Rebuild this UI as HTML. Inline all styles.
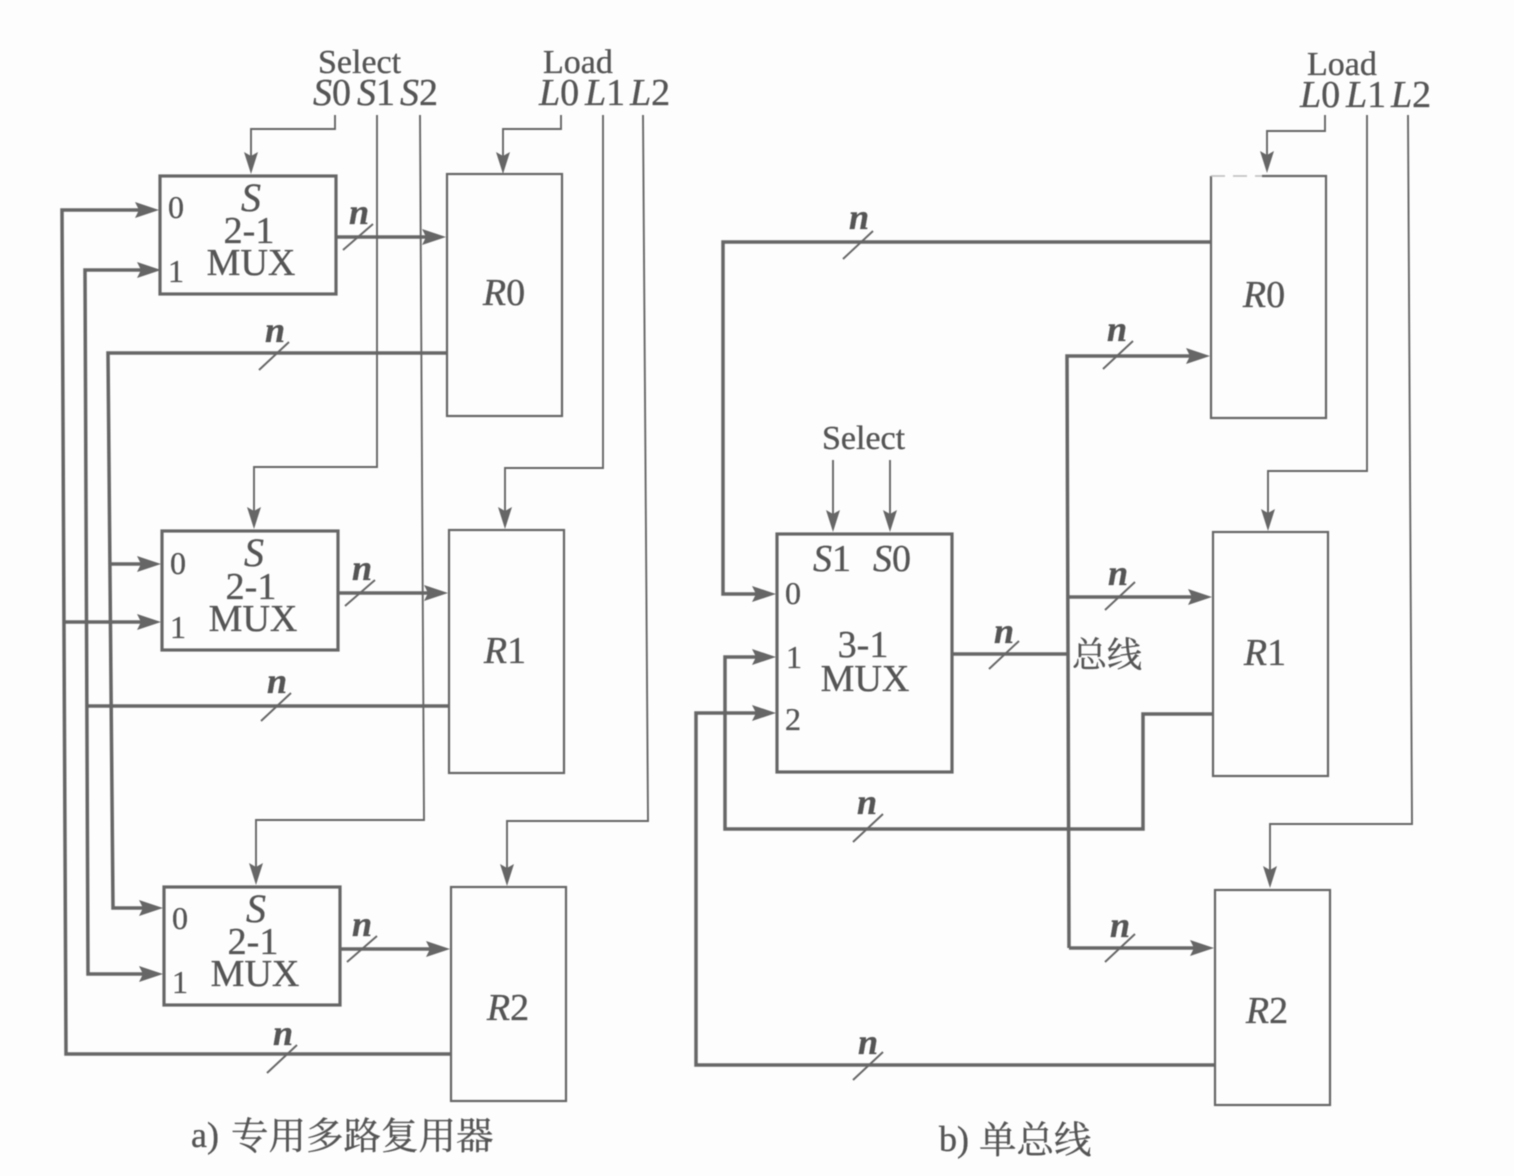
<!DOCTYPE html>
<html>
<head>
<meta charset="utf-8">
<style>
html,body{margin:0;padding:0;background:#fdfdfd;}
svg{display:block;filter:blur(0.6px);}
text{font-family:"Liberation Serif","Noto Serif CJK SC",serif;fill:#555;stroke:#555;stroke-width:0.35;}
.i{font-style:italic;}
.l{fill:none;stroke:#666;stroke-width:2.2;}
.t{fill:none;stroke:#666;stroke-width:3.5;}
.b{fill:none;stroke:#666;stroke-width:3.2;}
.s{fill:none;stroke:#666;stroke-width:1.9;}
.a{fill:#666;stroke:none;}
</style>
</head>
<body>
<svg width="1514" height="1176" viewBox="0 0 1514 1176" xmlns="http://www.w3.org/2000/svg">
<defs>
<g id="ar"><path class="a" d="M0,0 L-24,-8 L-20,0 L-24,8 Z"/></g>
<g id="ad"><path class="a" d="M0,0 L-7,-22 L0,-18 L7,-22 Z"/></g>
</defs>

<!-- Left boxes -->
<rect x="160" y="176" width="176" height="118" class="b"/>
<rect x="162" y="531" width="176" height="119" class="b"/>
<rect x="164" y="887" width="176" height="118" class="b"/>
<rect x="447" y="174" width="115" height="242" class="l"/>
<rect x="449" y="530" width="115" height="243" class="l"/>
<rect x="451" y="887" width="115" height="214" class="l"/>

<!-- Left select / load lines -->
<path class="s" d="M335,115 V129 H251 V170"/><use href="#ad" x="251" y="174"/>
<path class="s" d="M377,115 V467 H254 V525"/><use href="#ad" x="254" y="529"/>
<path class="s" d="M420,115 L424,820 H256 V881"/><use href="#ad" x="256" y="885"/>
<path class="s" d="M561,115 V129 H503 V170"/><use href="#ad" x="503" y="174"/>
<path class="s" d="M603,115 V468 H505 V525"/><use href="#ad" x="505" y="529"/>
<path class="s" d="M643,115 L648,821 H507 V882"/><use href="#ad" x="507" y="886"/>

<!-- Left buses -->
<path class="t" d="M447,353 H108 L113,908 H145"/><use href="#ar" x="163" y="908"/>
<path class="t" d="M110,564 H145"/><use href="#ar" x="161" y="564"/>
<path class="t" d="M145,270 H85 L88,974 H145"/><use href="#ar" x="161" y="270"/><use href="#ar" x="163" y="974"/>
<path class="t" d="M449,706 H87"/>
<path class="t" d="M451,1054 H66 L62,210 H145"/><use href="#ar" x="159" y="210"/>
<path class="t" d="M64,622 H145"/><use href="#ar" x="161" y="622"/>
<path class="t" d="M337,237 H430"/><use href="#ar" x="446" y="237"/>
<path class="t" d="M339,593 H432"/><use href="#ar" x="448" y="593"/>
<path class="t" d="M341,949 H434"/><use href="#ar" x="450" y="949"/>

<!-- Left slashes -->
<path class="s" d="M343,250 L373,224 M345,606 L375,580 M347,962 L377,936 M259,370 L289,342 M261,721 L291,693 M267,1073 L297,1045"/>

<!-- Right boxes -->
<path class="l" d="M1262,176 H1326 V418 H1211 V176"/>
<path d="M1211,176 H1262" fill="none" stroke="#bbb" stroke-width="1.5" stroke-dasharray="14 8"/>
<rect x="1213" y="532" width="115" height="244" class="l"/>
<rect x="1215" y="890" width="115" height="215" class="l"/>
<rect x="777" y="534" width="175" height="238" class="b"/>

<!-- Right load lines -->
<path class="s" d="M1325,115 V131 H1267 V168"/><use href="#ad" x="1267" y="173"/>
<path class="s" d="M1367,115 V471 H1268 V526"/><use href="#ad" x="1268" y="531"/>
<path class="s" d="M1408,115 L1412,824 H1270 V884"/><use href="#ad" x="1270" y="888"/>
<path class="s" d="M833,460 V528"/><use href="#ad" x="833" y="532"/>
<path class="s" d="M890,460 V528"/><use href="#ad" x="890" y="532"/>

<!-- Right buses -->
<path class="t" d="M1211,242 H723 V594 H760"/><use href="#ar" x="776" y="594"/>
<path class="t" d="M952,654 H1068"/>
<path class="t" d="M1069,948 H1197 M1069,948 L1067,356 H1195"/><use href="#ar" x="1210" y="356"/>
<path class="t" d="M1068,597 H1195"/><use href="#ar" x="1212" y="597"/>
<use href="#ar" x="1214" y="948"/>
<path class="t" d="M1213,714 H1143 V829 H725 V657 H760"/><use href="#ar" x="776" y="657"/>
<path class="t" d="M1215,1065 H696 V713 H760"/><use href="#ar" x="776" y="713"/>

<!-- Right slashes -->
<path class="s" d="M843,259 L873,231 M1103,369 L1133,341 M1105,610 L1135,582 M989,669 L1019,641 M853,842 L883,814 M1105,962 L1135,934 M853,1080 L883,1052"/>

<!-- Left labels -->
<text x="318" y="73" font-size="34">Select</text>
<text x="313" y="105" font-size="38"><tspan class="i">S</tspan>0</text>
<text x="357" y="105" font-size="38"><tspan class="i">S</tspan>1</text>
<text x="400" y="105" font-size="38"><tspan class="i">S</tspan>2</text>
<text x="543" y="73" font-size="34">Load</text>
<text x="539" y="105" font-size="38"><tspan class="i">L</tspan>0</text>
<text x="585" y="105" font-size="38"><tspan class="i">L</tspan>1</text>
<text x="630" y="105" font-size="38"><tspan class="i">L</tspan>2</text>

<text x="251" y="211" font-size="40" class="i" text-anchor="middle">S</text>
<text x="249" y="243" font-size="38" text-anchor="middle">2-1</text>
<text x="251" y="275" font-size="38" text-anchor="middle">MUX</text>
<text x="168" y="218" font-size="32">0</text>
<text x="168" y="282" font-size="32">1</text>
<text x="254" y="566" font-size="40" class="i" text-anchor="middle">S</text>
<text x="251" y="599" font-size="38" text-anchor="middle">2-1</text>
<text x="253" y="631" font-size="38" text-anchor="middle">MUX</text>
<text x="170" y="574" font-size="32">0</text>
<text x="170" y="638" font-size="32">1</text>
<text x="256" y="922" font-size="40" class="i" text-anchor="middle">S</text>
<text x="253" y="954" font-size="38" text-anchor="middle">2-1</text>
<text x="255" y="986" font-size="38" text-anchor="middle">MUX</text>
<text x="172" y="929" font-size="32">0</text>
<text x="172" y="993" font-size="32">1</text>

<text x="504" y="305" font-size="38" text-anchor="middle"><tspan class="i">R</tspan>0</text>
<text x="505" y="663" font-size="38" text-anchor="middle"><tspan class="i">R</tspan>1</text>
<text x="508" y="1020" font-size="38" text-anchor="middle"><tspan class="i">R</tspan>2</text>

<g font-size="36" class="i" font-weight="bold">
<text x="349" y="224">n</text>
<text x="352" y="580">n</text>
<text x="352" y="936">n</text>
<text x="265" y="342">n</text>
<text x="267" y="693">n</text>
<text x="273" y="1045">n</text>
<text x="849" y="229">n</text>
<text x="1107" y="341">n</text>
<text x="1108" y="585">n</text>
<text x="994" y="643">n</text>
<text x="857" y="814">n</text>
<text x="1110" y="937">n</text>
<text x="858" y="1054">n</text>
</g>

<!-- Right labels -->
<text x="1307" y="75" font-size="34">Load</text>
<text x="1300" y="107" font-size="38"><tspan class="i">L</tspan>0</text>
<text x="1346" y="107" font-size="38"><tspan class="i">L</tspan>1</text>
<text x="1391" y="107" font-size="38"><tspan class="i">L</tspan>2</text>
<text x="822" y="449" font-size="34">Select</text>
<text x="813" y="571" font-size="38"><tspan class="i">S</tspan>1</text>
<text x="873" y="571" font-size="38"><tspan class="i">S</tspan>0</text>
<text x="863" y="657" font-size="38" text-anchor="middle">3-1</text>
<text x="865" y="691" font-size="38" text-anchor="middle">MUX</text>
<text x="785" y="604" font-size="32">0</text>
<text x="786" y="668" font-size="32">1</text>
<text x="785" y="730" font-size="32">2</text>
<text x="1072" y="667" font-size="35">总线</text>
<text x="1264" y="307" font-size="38" text-anchor="middle"><tspan class="i">R</tspan>0</text>
<text x="1265" y="665" font-size="38" text-anchor="middle"><tspan class="i">R</tspan>1</text>
<text x="1267" y="1023" font-size="38" text-anchor="middle"><tspan class="i">R</tspan>2</text>

<!-- Captions -->
<text x="191" y="1147" font-size="36">a)</text>
<text x="231" y="1149" font-size="37.5">专用多路复用器</text>
<text x="939" y="1151" font-size="36">b)</text>
<text x="979" y="1153" font-size="37.5">单总线</text>
</svg>
</body>
</html>
